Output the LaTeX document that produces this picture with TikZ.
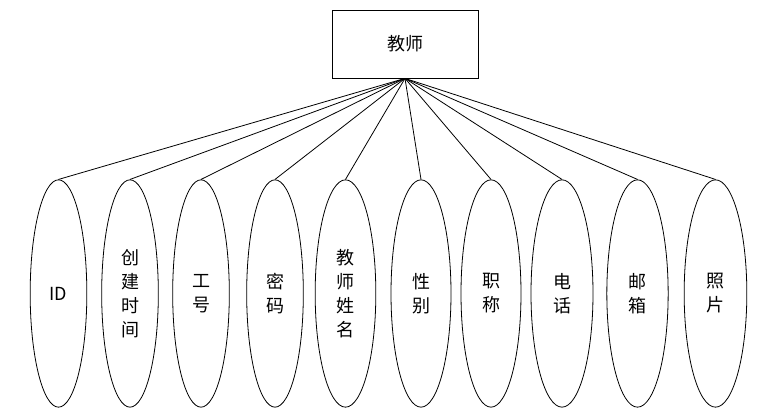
\documentclass[tikz,border=0pt]{standalone}
\usepackage{fontspec}
\setmainfont{Noto Sans CJK SC}
\usetikzlibrary{shapes.geometric}
\tikzset{
	entity/.style = {draw, line width=0.6pt, minimum width=109.5pt, minimum height=51pt, inner sep=0pt, font=\fontsize{13.5}{18}\selectfont},
	attr/.style = {draw, ellipse, line width=0.6pt, minimum height=170.5pt, inner sep=0pt, align=center, font=\fontsize{13.5}{18}\selectfont},
	link/.style = {line width=0.6pt}
}
\begin{document}
\begin{tikzpicture}[x=0.75pt, y=-0.75pt]
		\useasboundingbox (0,0) rectangle (772,409);
		\node[entity] (teacher) at (405,44) {教师};
		\node[attr, minimum width=42.5pt] (id) at (58.5,293.5) {ID};
		\node[attr, minimum width=42.5pt] (ctime) at (130,293.5) {创\\建\\时\\间};
		\node[attr, minimum width=42.5pt] (jobno) at (201,293.5) {工\\号};
		\node[attr, minimum width=42.5pt] (pwd) at (275,293.5) {密\\码};
		\node[attr, minimum width=45.5pt] (tname) at (345.5,293.5) {教\\师\\姓\\名};
		\node[attr, minimum width=45pt] (gender) at (421,293.5) {性\\别};
		\node[attr, minimum width=45pt] (title) at (491,293.5) {职\\称};
		\node[attr, minimum width=46.5pt] (phone) at (562,293.5) {电\\话};
		\node[attr, minimum width=46pt] (mail) at (637.5,293.5) {邮\\箱};
		\node[attr, minimum width=47pt] (photo) at (715.5,293.5) {照\\片};
		\draw[link] (teacher.south) -- (id.north);
		\draw[link] (teacher.south) -- (ctime.north);
		\draw[link] (teacher.south) -- (jobno.north);
		\draw[link] (teacher.south) -- (pwd.north);
		\draw[link] (teacher.south) -- (tname.north);
		\draw[link] (teacher.south) -- (gender.north);
		\draw[link] (teacher.south) -- (title.north);
		\draw[link] (teacher.south) -- (phone.north);
		\draw[link] (teacher.south) -- (mail.north);
		\draw[link] (teacher.south) -- (photo.north);
\end{tikzpicture}
\end{document}
